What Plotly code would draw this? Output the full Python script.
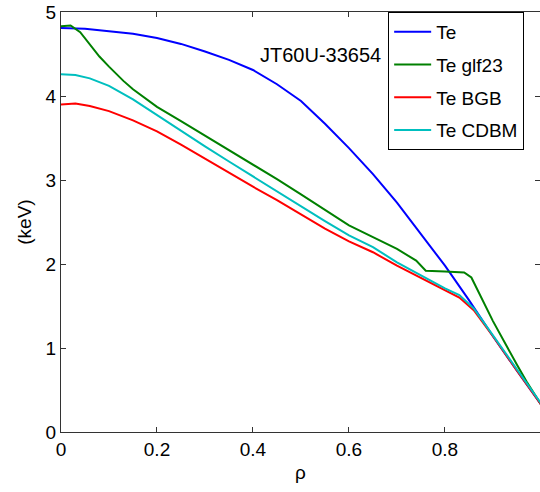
import plotly.graph_objects as go

# ---- data ----
rho_te = [0.0, 0.05, 0.1, 0.15, 0.2, 0.25, 0.3, 0.35, 0.4, 0.45, 0.5, 0.55, 0.6,
          0.65, 0.7, 0.75, 0.8, 0.85, 0.9, 0.95, 1.0]
te = [4.81, 4.80, 4.77, 4.74, 4.69, 4.62, 4.53, 4.43, 4.31, 4.14, 3.94, 3.67, 3.38,
      3.07, 2.73, 2.36, 1.98, 1.57, 1.14, 0.73, 0.33]

rho_glf = [0.0, 0.02, 0.04, 0.06, 0.08, 0.1, 0.13, 0.15, 0.2, 0.25, 0.3, 0.35, 0.4, 0.45,
           0.5, 0.55, 0.6, 0.65, 0.7, 0.74, 0.76, 0.8, 0.84, 0.855, 0.9, 0.95, 0.97, 1.0]
te_glf = [4.83, 4.84, 4.76, 4.62, 4.47, 4.35, 4.18, 4.08, 3.87, 3.70, 3.53, 3.36, 3.18,
          3.01, 2.83, 2.64, 2.46, 2.32, 2.18, 2.04, 1.92, 1.91, 1.90, 1.84, 1.32, 0.80,
          0.60, 0.33]

rho_bgb = [0.0, 0.03, 0.06, 0.1, 0.15, 0.2, 0.25, 0.3, 0.35, 0.4, 0.45, 0.5, 0.55,
           0.6, 0.65, 0.7, 0.75, 0.8, 0.83, 0.86, 0.9, 0.95, 1.0]
te_bgb = [3.90, 3.91, 3.88, 3.82, 3.71, 3.58, 3.42, 3.25, 3.08, 2.92, 2.76, 2.59, 2.42,
          2.27, 2.14, 1.98, 1.83, 1.68, 1.60, 1.45, 1.14, 0.73, 0.33]

rho_cdbm = [0.0, 0.03, 0.06, 0.1, 0.15, 0.2, 0.25, 0.3, 0.35, 0.4, 0.45, 0.5, 0.55,
            0.6, 0.65, 0.7, 0.75, 0.8, 0.83, 0.86, 0.9, 0.95, 1.0]
te_cdbm = [4.26, 4.25, 4.21, 4.12, 3.96, 3.77, 3.58, 3.40, 3.22, 3.04, 2.86, 2.68, 2.51,
           2.34, 2.20, 2.02, 1.86, 1.71, 1.63, 1.47, 1.15, 0.74, 0.34]

names = ["Te", "Te glf23", "Te BGB", "Te CDBM"]
colors = ["#0000ff", "#008000", "#ff0000", "#00bfbf"]
series = [(rho_te, te), (rho_glf, te_glf), (rho_bgb, te_bgb), (rho_cdbm, te_cdbm)]

x_ticks = [0, 0.2, 0.4, 0.6, 0.8, 1]
x_ticktext = ["0", "0.2", "0.4", "0.6", "0.8", "1"]
y_ticks = [0, 1, 2, 3, 4, 5]

FONT = "Liberation Sans, Arial, Helvetica, sans-serif"

fig = go.Figure()
for (xs, ys), n, c in zip(series, names, colors):
    fig.add_trace(go.Scatter(x=xs, y=ys, mode="lines", name=n, legendgroup=n,
                             line=dict(color=c, width=2)))

axis_common = dict(showline=True, linecolor="#333333", linewidth=1, mirror="ticks",
                   ticks="inside", ticklen=5, tickcolor="#333333", showgrid=False,
                   zeroline=False, tickfont=dict(family=FONT, size=19, color="black"))

fig.update_layout(
    width=540, height=492,
    margin=dict(l=61, r=0, t=12, b=60),
    paper_bgcolor="white", plot_bgcolor="white",
    font=dict(family=FONT, color="black"),
    xaxis=dict(range=[0, 0.998], tickvals=x_ticks, ticktext=x_ticktext,
               title=dict(text="ρ", font=dict(size=19), standoff=6), **axis_common),
    yaxis=dict(range=[0, 5], tickvals=y_ticks,
               title=dict(text="(keV)", font=dict(size=19), standoff=8), **axis_common),
    legend=dict(x=0.683, y=1.0, xanchor="left", yanchor="top",
                bgcolor="white", bordercolor="black", borderwidth=1,
                font=dict(family=FONT, size=19, color="black"),
                tracegroupgap=5, itemwidth=37),
    showlegend=True,
    annotations=[dict(text="JT60U-33654", xref="paper", yref="paper", x=0.542, y=0.929,
                      showarrow=False, font=dict(family=FONT, size=20, color="black"))],
)

fig.write_html("out.html")
